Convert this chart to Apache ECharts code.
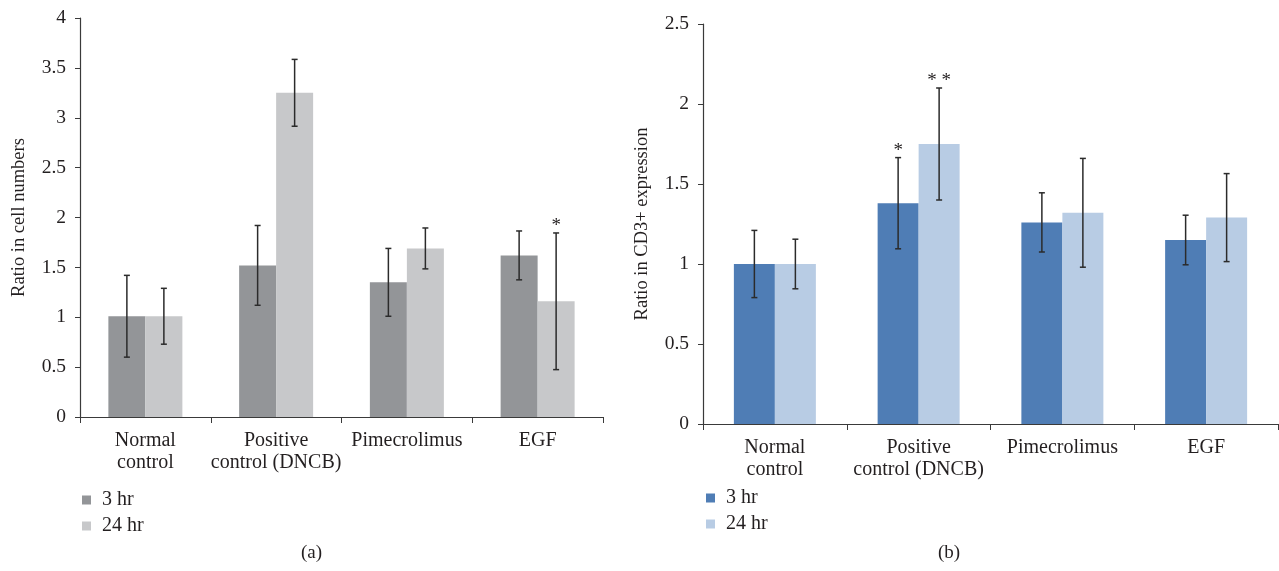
<!DOCTYPE html>
<html><head><meta charset="utf-8">
<script src="https://cdn.jsdelivr.net/npm/echarts@6/dist/echarts.min.js"></script>
<style>html,body{margin:0;padding:0;background:#fff}#c{width:1279px;height:571px}</style>
</head><body><div id="c"></div>
<script>
const categories = ['Normal\ncontrol', 'Positive\ncontrol (DNCB)', 'Pimecrolimus', 'EGF'];
const seriesNames = ['3 hr', '24 hr'];
// (a) Ratio in cell numbers
const cell3hr = [1.01, 1.52, 1.35, 1.62];
const cell3hrErr = [0.41, 0.40, 0.34, 0.245];
const cell24hr = [1.01, 3.25, 1.69, 1.16];
const cell24hrErr = [0.28, 0.335, 0.205, 0.685];
const cell3hrStars = ['', '', '', ''];
const cell24hrStars = ['', '', '', '*'];
// (b) Ratio in CD3+ expression
const cd3_3hr = [1.00, 1.38, 1.26, 1.15];
const cd3_3hrErr = [0.21, 0.285, 0.185, 0.155];
const cd3_24hr = [1.00, 1.75, 1.32, 1.29];
const cd3_24hrErr = [0.155, 0.35, 0.34, 0.275];
const cd3_3hrStars = ['', '*', '', ''];
const cd3_24hrStars = ['', '* *', '', ''];
const yTicksA = {min: 0, max: 4, interval: 0.5};
const yTicksB = {min: 0, max: 2.5, interval: 0.5};

const FONT = "'Liberation Serif', 'DejaVu Serif', serif";
const TXT = '#231f20';
const colA = ['#939598', '#c7c8ca'];
const colB = ['#4f7db5', '#b8cce4'];
const bwA = 37, bwB = 41;

function errSeries(gi, vals, errs, stars, offset) {
  return {
    type: 'custom', xAxisIndex: gi, yAxisIndex: gi, z: 5, silent: true,
    data: vals.map((v, i) => [i, v, errs[i]]),
    renderItem: function (params, api) {
      const i = api.value(0), v = api.value(1), e = api.value(2);
      const st = stars[i];
      const cx = api.coord([i, 0])[0] + offset;
      const yt = api.coord([i, v + e])[1];
      const yb = api.coord([i, v - e])[1];
      const cap = 3;
      const ls = {stroke: '#2b2b2b', lineWidth: 1.5};
      const ch = [
        {type: 'line', shape: {x1: cx, y1: yt, x2: cx, y2: yb}, style: ls},
        {type: 'line', shape: {x1: cx - cap, y1: yt, x2: cx + cap, y2: yt}, style: ls},
        {type: 'line', shape: {x1: cx - cap, y1: yb, x2: cx + cap, y2: yb}, style: ls}
      ];
      if (st) {
        ch.push({type: 'text', style: {text: st, x: cx, y: yt + 3, textAlign: 'center', textVerticalAlign: 'bottom', fontFamily: FONT, fontSize: 19, fill: TXT}});
      }
      return {type: 'group', children: ch};
    }
  };
}

const axisLineStyle = {lineStyle: {color: '#3a3a3a', width: 1.2}};
function xAx(gi) {
  return {type: 'category', gridIndex: gi, data: categories, boundaryGap: true,
    axisLine: axisLineStyle, axisTick: {show: true, length: 6, lineStyle: {color: '#3a3a3a'}},
    axisLabel: {interval: 0, color: TXT, fontFamily: FONT, fontSize: 20, lineHeight: 22, margin: 13}};
}
function yAx(gi, t, name, gap, fs) {
  return {type: 'value', gridIndex: gi, min: t.min, max: t.max, interval: t.interval,
    name: name, nameLocation: 'middle', nameGap: gap, nameTextStyle: {color: TXT, fontFamily: FONT, fontSize: 18.5},
    axisLine: {show: true, lineStyle: {color: '#3a3a3a', width: 1.2}},
    axisTick: {show: true, length: 5, lineStyle: {color: '#3a3a3a'}},
    splitLine: {show: false},
    axisLabel: {color: TXT, fontFamily: FONT, fontSize: fs, margin: 14}};
}
function bar(gi, name, vals, color, bw) {
  return {type: 'bar', name: name, xAxisIndex: gi, yAxisIndex: gi, data: vals, barWidth: bw, barGap: '0%',
    itemStyle: {color: color}};
}
function legend(left, top, cols) {
  return {orient: 'vertical', left: left, top: top, icon: 'rect', itemWidth: 9, itemHeight: 9, itemGap: 6,
    textStyle: {color: TXT, fontFamily: FONT, fontSize: 20, padding: [0, 0, 0, 6]}, selectedMode: false,
    data: [{name: seriesNames[0], itemStyle: {color: cols[0]}}, {name: seriesNames[1], itemStyle: {color: cols[1]}}]};
}

const option = {
  animation: false,
  textStyle: {fontFamily: FONT},
  grid: [
    {left: 80, right: 676, top: 18, bottom: 154},
    {left: 703, right: 1, top: 24, bottom: 147}
  ],
  xAxis: [xAx(0), xAx(1)],
  yAxis: [yAx(0, yTicksA, 'Ratio in cell numbers', 51, 19.5), yAx(1, yTicksB, 'Ratio in CD3+ expression', 51, 19.5)],
  legend: [legend(77, 485, colA), legend(701, 483, colB)],
  graphic: [
    {type: 'text', left: 301, top: 544, style: {text: '(a)', fontFamily: FONT, fontSize: 19, fill: TXT}},
    {type: 'text', left: 938, top: 544, style: {text: '(b)', fontFamily: FONT, fontSize: 19, fill: TXT}}
  ],
  series: [
    bar(0, seriesNames[0], cell3hr, colA[0], bwA),
    bar(0, seriesNames[1], cell24hr, colA[1], bwA),
    bar(1, seriesNames[0], cd3_3hr, colB[0], bwB),
    bar(1, seriesNames[1], cd3_24hr, colB[1], bwB),
    errSeries(0, cell3hr, cell3hrErr, cell3hrStars, -bwA / 2),
    errSeries(0, cell24hr, cell24hrErr, cell24hrStars, bwA / 2),
    errSeries(1, cd3_3hr, cd3_3hrErr, cd3_3hrStars, -bwB / 2),
    errSeries(1, cd3_24hr, cd3_24hrErr, cd3_24hrStars, bwB / 2)
  ]
};
echarts.init(document.getElementById('c')).setOption(option);
</script></body></html>
